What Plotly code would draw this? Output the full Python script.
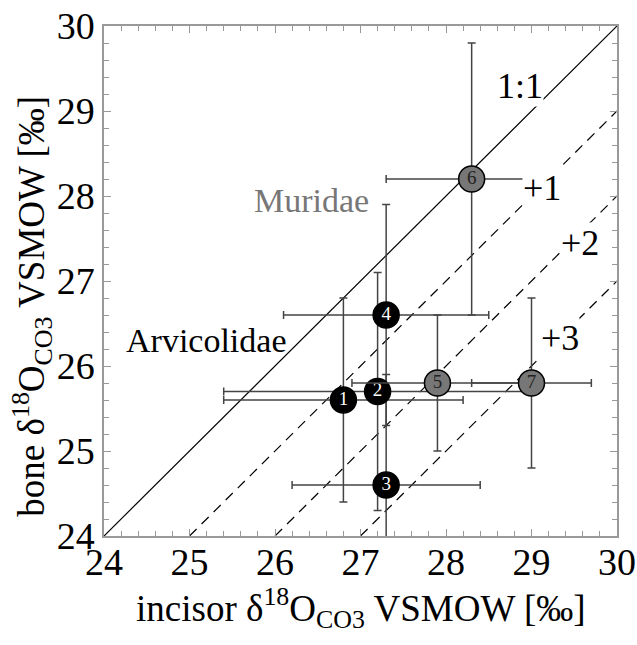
import plotly.graph_objects as go

# ---- data ----
ids = ["1", "2", "3", "4", "5", "6", "7"]
family = ["Arvicolidae", "Arvicolidae", "Arvicolidae", "Arvicolidae", "Muridae", "Muridae", "Muridae"]
incisor = [26.8, 27.2, 27.3, 27.3, 27.9, 28.3, 29.0]
incisor_err = [1.4, 1.8, 1.1, 1.2, 1.0, 1.0, 0.7]
bone = [25.6, 25.7, 24.6, 26.6, 25.8, 28.2, 25.8]
bone_err = [1.2, 1.4, 1.3, 1.3, 0.8, 1.6, 1.0]

offsets = [0, 1, 2, 3]
offset_labels = ["1:1", "+1", "+2", "+3"]
label_x = [28.87, 29.12, 29.57, 29.33]
label_y = [29.3, 28.1, 27.45, 26.33]

family_names = ["Arvicolidae", "Muridae"]
family_label_x = [25.2, 26.43]
family_label_y = [26.3, 27.95]

x_title = "incisor δ<sup>18</sup>O<sub>CO3</sub> VSMOW [‰]"
y_title = "bone δ<sup>18</sup>O<sub>CO3</sub> VSMOW [‰]"

axis_min, axis_max = 24, 30

FONT = "Liberation Serif"
fig = go.Figure()

# reference lines
for off in offsets:
    fig.add_trace(go.Scatter(
        x=[axis_min + off, axis_max], y=[axis_min, axis_max - off],
        mode="lines", line=dict(color="black", width=1.2, dash="solid" if off == 0 else "10px,7px"),
        hoverinfo="skip", showlegend=False))

styles = {
    "Arvicolidae": dict(fill="black", txt="white"),
    "Muridae": dict(fill="#777777", txt="#222222"),
}
for fam in family_names:
    idx = [i for i, f in enumerate(family) if f == fam]
    st = styles[fam]
    fig.add_trace(go.Scatter(
        x=[incisor[i] for i in idx], y=[bone[i] for i in idx],
        text=[ids[i] for i in idx],
        mode="markers+text", textposition="middle center",
        textfont=dict(family=FONT, size=19, color=st["txt"]),
        marker=dict(size=26, color=st["fill"], line=dict(color="black", width=1.5)),
        error_x=dict(type="data", array=[incisor_err[i] for i in idx], color="#444444", thickness=1.5, width=4),
        error_y=dict(type="data", array=[bone_err[i] for i in idx], color="#444444", thickness=1.5, width=4),
        name=fam, showlegend=False, cliponaxis=False))

annotations = []
for lab, lx, ly in zip(offset_labels, label_x, label_y):
    annotations.append(dict(x=lx, y=ly, text=lab, showarrow=False, xref="x", yref="y",
                            font=dict(family=FONT, size=36, color="black"), bgcolor="white",
                            borderpad=0))
fam_colors = ["black", "#777777"]
for name, fx, fy, c in zip(family_names, family_label_x, family_label_y, fam_colors):
    annotations.append(dict(x=fx, y=fy, text=name, showarrow=False, xref="x", yref="y",
                            font=dict(family=FONT, size=34, color=c)))

# axis titles as annotations for exact placement
annotations.append(dict(x=0.5, y=-0.142, xref="paper", yref="paper", text=x_title,
                        showarrow=False, xanchor="center", yanchor="middle",
                        font=dict(family=FONT, size=37, color="black")))
annotations.append(dict(x=-0.142, y=0.45, xref="paper", yref="paper", text=y_title,
                        showarrow=False, xanchor="center", yanchor="middle", textangle=-90,
                        font=dict(family=FONT, size=37, color="black")))

axis_common = dict(
    range=[axis_min, axis_max], dtick=1, ticks="inside", ticklen=7, tickwidth=1,
    tickcolor="#999999", showline=True, linecolor="#999999", linewidth=1.5, mirror="ticks",
    showgrid=False, zeroline=False, automargin=False, ticklabeloverflow="allow",
    tickfont=dict(family=FONT, size=38, color="black"),
    minor=dict(dtick=0.2, ticks="inside", ticklen=5, tickcolor="#999999", tickwidth=1),
)

fig.update_layout(
    width=637, height=645,
    margin=dict(l=104, r=20, t=26, b=109),
    paper_bgcolor="white", plot_bgcolor="white",
    xaxis=dict(**axis_common, ticklabelstandoff=-8),
    yaxis=dict(**axis_common),
    annotations=annotations,
    font=dict(family=FONT),
)

# remove the default 8px page margin so the figure fills the window exactly
fig.write_html("out.html", config={"displayModeBar": False},
               post_script="document.body.style.margin='0';document.body.style.overflow='hidden';")
